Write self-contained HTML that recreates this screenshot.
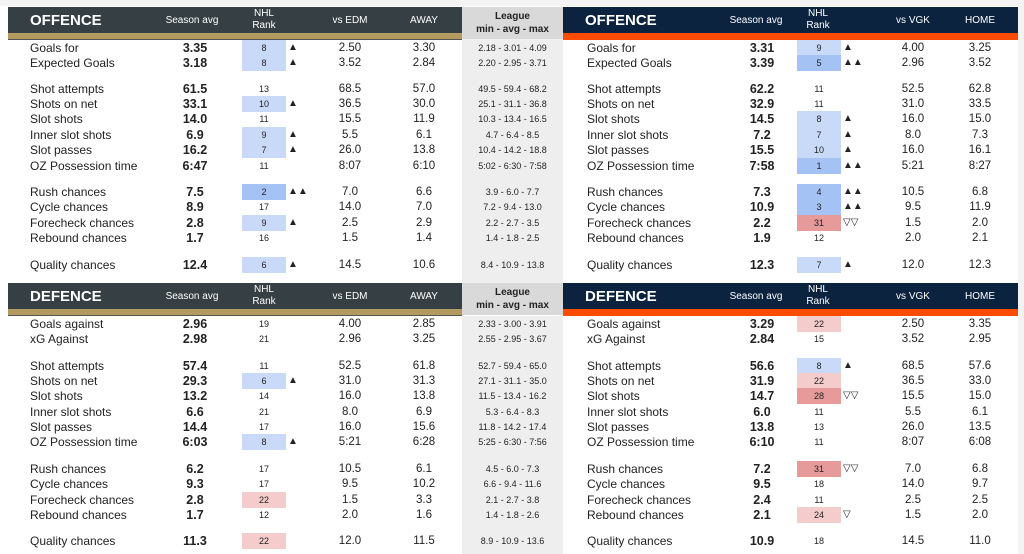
<!DOCTYPE html>
<html><head><meta charset="utf-8"><style>
*{margin:0;padding:0;box-sizing:border-box}
body{width:1024px;height:554px;background:#fff;position:relative;overflow:hidden;font-family:"Liberation Sans",Arial,sans-serif;color:#222}
.abs{position:absolute}
.hd{position:absolute;height:26px;color:#fff}
.hd .t{position:absolute;left:22px;top:5px;font-size:15px;font-weight:bold}
.hd .c{position:absolute;font-size:10px;text-align:center;width:80px}
.row{position:absolute;left:0;width:1024px;height:16px;line-height:16px}
.row span{position:absolute;top:0;white-space:nowrap}
.l{left:30px;font-size:12px}
.s{left:165px;width:60px;text-align:center;font-size:12.5px;font-weight:bold}
.r{left:242px;width:44px;height:16px;text-align:center;font-size:9px}
.a{left:288px;font-size:10px}
.v1{left:320px;width:60px;text-align:center;font-size:11.5px}
.v2{left:394px;width:60px;text-align:center;font-size:11.5px}
.lg{left:462px;width:101px;text-align:center;font-size:9px}
.R .l{left:587px}
.R .s{left:732px}
.R .r{left:797px}
.R .a{left:843px}
.R .v1{left:883px}
.R .v2{left:950px}
.lb{background:#c9daf8}.db{background:#a4c2f4}.lr{background:#f4cccc}.dr{background:#e69a9a}
</style></head><body>
<div class="abs" style="left:0;top:0;width:1024px;height:6px;background:#f3f3f3"></div>
<div class="abs" style="left:462px;top:39px;width:101px;height:244px;background:#eeeeee"></div>
<div class="abs" style="left:462px;top:316px;width:101px;height:238px;background:#eeeeee"></div>
<div class="abs" style="left:1018px;top:6px;width:6px;height:548px;background:#f3f3f3"></div>

<!-- Left offence header -->
<div class="hd" style="left:8px;top:7px;width:454px;background:#363f43">
<div class="t">OFFENCE</div>
<div class="c" style="left:144px;top:8px">Season avg</div>
<div class="c" style="left:216px;top:1px;line-height:12px">NHL<br>Rank</div>
<div class="c" style="left:302px;top:8px">vs EDM</div>
<div class="c" style="left:376px;top:8px">AWAY</div>
</div>
<div class="abs" style="left:8px;top:33px;width:454px;height:6px;background:#b39b5f"></div>
<div class="abs" style="left:8px;top:39px;width:454px;height:1px;background:#555"></div>
<div class="abs" style="left:462px;top:7px;width:101px;height:32px;background:#d9d9d9;text-align:center;font-size:10px;font-weight:bold;line-height:13px;padding-top:3px">League<br>min - avg - max</div>

<!-- Right offence header -->
<div class="hd" style="left:563px;top:7px;width:455px;background:#0c2340">
<div class="t">OFFENCE</div>
<div class="c" style="left:153px;top:8px">Season avg</div>
<div class="c" style="left:215px;top:1px;line-height:12px">NHL<br>Rank</div>
<div class="c" style="left:310px;top:8px">vs VGK</div>
<div class="c" style="left:377px;top:8px">HOME</div>
</div>
<div class="abs" style="left:563px;top:33px;width:455px;height:7px;background:#fc4c02"></div>

<!-- Left defence header -->
<div class="hd" style="left:8px;top:283px;width:454px;background:#363f43">
<div class="t">DEFENCE</div>
<div class="c" style="left:144px;top:8px">Season avg</div>
<div class="c" style="left:216px;top:1px;line-height:12px">NHL<br>Rank</div>
<div class="c" style="left:302px;top:8px">vs EDM</div>
<div class="c" style="left:376px;top:8px">AWAY</div>
</div>
<div class="abs" style="left:8px;top:309px;width:454px;height:6px;background:#b39b5f"></div>
<div class="abs" style="left:8px;top:315px;width:454px;height:1px;background:#555"></div>
<div class="abs" style="left:462px;top:283px;width:101px;height:32px;background:#d9d9d9;text-align:center;font-size:10px;font-weight:bold;line-height:13px;padding-top:3px">League<br>min - avg - max</div>

<!-- Right defence header -->
<div class="hd" style="left:563px;top:283px;width:455px;background:#0c2340">
<div class="t">DEFENCE</div>
<div class="c" style="left:153px;top:8px">Season avg</div>
<div class="c" style="left:215px;top:1px;line-height:12px">NHL<br>Rank</div>
<div class="c" style="left:310px;top:8px">vs VGK</div>
<div class="c" style="left:377px;top:8px">HOME</div>
</div>
<div class="abs" style="left:563px;top:309px;width:455px;height:7px;background:#fc4c02"></div>

<!-- Left offence rows -->
<div class="row" style="top:40px"><span class="l">Goals for</span><span class="s">3.35</span><span class="r lb">8</span><span class="a">▲</span><span class="v1">2.50</span><span class="v2">3.30</span><span class="lg">2.18 - 3.01 - 4.09</span></div>
<div class="row" style="top:55px"><span class="l">Expected Goals</span><span class="s">3.18</span><span class="r lb">8</span><span class="a">▲</span><span class="v1">3.52</span><span class="v2">2.84</span><span class="lg">2.20 - 2.95 - 3.71</span></div>
<div class="row" style="top:81px"><span class="l">Shot attempts</span><span class="s">61.5</span><span class="r">13</span><span class="v1">68.5</span><span class="v2">57.0</span><span class="lg">49.5 - 59.4 - 68.2</span></div>
<div class="row" style="top:96px"><span class="l">Shots on net</span><span class="s">33.1</span><span class="r lb">10</span><span class="a">▲</span><span class="v1">36.5</span><span class="v2">30.0</span><span class="lg">25.1 - 31.1 - 36.8</span></div>
<div class="row" style="top:111px"><span class="l">Slot shots</span><span class="s">14.0</span><span class="r">11</span><span class="v1">15.5</span><span class="v2">11.9</span><span class="lg">10.3 - 13.4 - 16.5</span></div>
<div class="row" style="top:127px"><span class="l">Inner slot shots</span><span class="s">6.9</span><span class="r lb">9</span><span class="a">▲</span><span class="v1">5.5</span><span class="v2">6.1</span><span class="lg">4.7 - 6.4 - 8.5</span></div>
<div class="row" style="top:142px"><span class="l">Slot passes</span><span class="s">16.2</span><span class="r lb">7</span><span class="a">▲</span><span class="v1">26.0</span><span class="v2">13.8</span><span class="lg">10.4 - 14.2 - 18.8</span></div>
<div class="row" style="top:158px"><span class="l">OZ Possession time</span><span class="s">6:47</span><span class="r">11</span><span class="v1">8:07</span><span class="v2">6:10</span><span class="lg">5:02 - 6:30 - 7:58</span></div>
<div class="row" style="top:184px"><span class="l">Rush chances</span><span class="s">7.5</span><span class="r db">2</span><span class="a">▲▲</span><span class="v1">7.0</span><span class="v2">6.6</span><span class="lg">3.9 - 6.0 - 7.7</span></div>
<div class="row" style="top:199px"><span class="l">Cycle chances</span><span class="s">8.9</span><span class="r">17</span><span class="v1">14.0</span><span class="v2">7.0</span><span class="lg">7.2 - 9.4 - 13.0</span></div>
<div class="row" style="top:215px"><span class="l">Forecheck chances</span><span class="s">2.8</span><span class="r lb">9</span><span class="a">▲</span><span class="v1">2.5</span><span class="v2">2.9</span><span class="lg">2.2 - 2.7 - 3.5</span></div>
<div class="row" style="top:230px"><span class="l">Rebound chances</span><span class="s">1.7</span><span class="r">16</span><span class="v1">1.5</span><span class="v2">1.4</span><span class="lg">1.4 - 1.8 - 2.5</span></div>
<div class="row" style="top:257px"><span class="l">Quality chances</span><span class="s">12.4</span><span class="r lb">6</span><span class="a">▲</span><span class="v1">14.5</span><span class="v2">10.6</span><span class="lg">8.4 - 10.9 - 13.8</span></div>

<!-- Right offence rows -->
<div class="R">
<div class="row" style="top:40px"><span class="l">Goals for</span><span class="s">3.31</span><span class="r lb">9</span><span class="a">▲</span><span class="v1">4.00</span><span class="v2">3.25</span></div>
<div class="row" style="top:55px"><span class="l">Expected Goals</span><span class="s">3.39</span><span class="r db">5</span><span class="a">▲▲</span><span class="v1">2.96</span><span class="v2">3.52</span></div>
<div class="row" style="top:81px"><span class="l">Shot attempts</span><span class="s">62.2</span><span class="r">11</span><span class="v1">52.5</span><span class="v2">62.8</span></div>
<div class="row" style="top:96px"><span class="l">Shots on net</span><span class="s">32.9</span><span class="r">11</span><span class="v1">31.0</span><span class="v2">33.5</span></div>
<div class="row" style="top:111px"><span class="l">Slot shots</span><span class="s">14.5</span><span class="r lb">8</span><span class="a">▲</span><span class="v1">16.0</span><span class="v2">15.0</span></div>
<div class="row" style="top:127px"><span class="l">Inner slot shots</span><span class="s">7.2</span><span class="r lb">7</span><span class="a">▲</span><span class="v1">8.0</span><span class="v2">7.3</span></div>
<div class="row" style="top:142px"><span class="l">Slot passes</span><span class="s">15.5</span><span class="r lb">10</span><span class="a">▲</span><span class="v1">16.0</span><span class="v2">16.1</span></div>
<div class="row" style="top:158px"><span class="l">OZ Possession time</span><span class="s">7:58</span><span class="r db">1</span><span class="a">▲▲</span><span class="v1">5:21</span><span class="v2">8:27</span></div>
<div class="row" style="top:184px"><span class="l">Rush chances</span><span class="s">7.3</span><span class="r db">4</span><span class="a">▲▲</span><span class="v1">10.5</span><span class="v2">6.8</span></div>
<div class="row" style="top:199px"><span class="l">Cycle chances</span><span class="s">10.9</span><span class="r db">3</span><span class="a">▲▲</span><span class="v1">9.5</span><span class="v2">11.9</span></div>
<div class="row" style="top:215px"><span class="l">Forecheck chances</span><span class="s">2.2</span><span class="r dr">31</span><span class="a">▽▽</span><span class="v1">1.5</span><span class="v2">2.0</span></div>
<div class="row" style="top:230px"><span class="l">Rebound chances</span><span class="s">1.9</span><span class="r">12</span><span class="v1">2.0</span><span class="v2">2.1</span></div>
<div class="row" style="top:257px"><span class="l">Quality chances</span><span class="s">12.3</span><span class="r lb">7</span><span class="a">▲</span><span class="v1">12.0</span><span class="v2">12.3</span></div>
</div>

<!-- Left defence rows -->
<div class="row" style="top:316px"><span class="l">Goals against</span><span class="s">2.96</span><span class="r">19</span><span class="v1">4.00</span><span class="v2">2.85</span><span class="lg">2.33 - 3.00 - 3.91</span></div>
<div class="row" style="top:331px"><span class="l">xG Against</span><span class="s">2.98</span><span class="r">21</span><span class="v1">2.96</span><span class="v2">3.25</span><span class="lg">2.55 - 2.95 - 3.67</span></div>
<div class="row" style="top:358px"><span class="l">Shot attempts</span><span class="s">57.4</span><span class="r">11</span><span class="v1">52.5</span><span class="v2">61.8</span><span class="lg">52.7 - 59.4 - 65.0</span></div>
<div class="row" style="top:373px"><span class="l">Shots on net</span><span class="s">29.3</span><span class="r lb">6</span><span class="a">▲</span><span class="v1">31.0</span><span class="v2">31.3</span><span class="lg">27.1 - 31.1 - 35.0</span></div>
<div class="row" style="top:388px"><span class="l">Slot shots</span><span class="s">13.2</span><span class="r">14</span><span class="v1">16.0</span><span class="v2">13.8</span><span class="lg">11.5 - 13.4 - 16.2</span></div>
<div class="row" style="top:404px"><span class="l">Inner slot shots</span><span class="s">6.6</span><span class="r">21</span><span class="v1">8.0</span><span class="v2">6.9</span><span class="lg">5.3 - 6.4 - 8.3</span></div>
<div class="row" style="top:419px"><span class="l">Slot passes</span><span class="s">14.4</span><span class="r">17</span><span class="v1">16.0</span><span class="v2">15.6</span><span class="lg">11.8 - 14.2 - 17.4</span></div>
<div class="row" style="top:434px"><span class="l">OZ Possession time</span><span class="s">6:03</span><span class="r lb">8</span><span class="a">▲</span><span class="v1">5:21</span><span class="v2">6:28</span><span class="lg">5:25 - 6:30 - 7:56</span></div>
<div class="row" style="top:461px"><span class="l">Rush chances</span><span class="s">6.2</span><span class="r">17</span><span class="v1">10.5</span><span class="v2">6.1</span><span class="lg">4.5 - 6.0 - 7.3</span></div>
<div class="row" style="top:476px"><span class="l">Cycle chances</span><span class="s">9.3</span><span class="r">17</span><span class="v1">9.5</span><span class="v2">10.2</span><span class="lg">6.6 - 9.4 - 11.6</span></div>
<div class="row" style="top:492px"><span class="l">Forecheck chances</span><span class="s">2.8</span><span class="r lr">22</span><span class="v1">1.5</span><span class="v2">3.3</span><span class="lg">2.1 - 2.7 - 3.8</span></div>
<div class="row" style="top:507px"><span class="l">Rebound chances</span><span class="s">1.7</span><span class="r">12</span><span class="v1">2.0</span><span class="v2">1.6</span><span class="lg">1.4 - 1.8 - 2.6</span></div>
<div class="row" style="top:533px"><span class="l">Quality chances</span><span class="s">11.3</span><span class="r lr">22</span><span class="v1">12.0</span><span class="v2">11.5</span><span class="lg">8.9 - 10.9 - 13.6</span></div>

<!-- Right defence rows -->
<div class="R">
<div class="row" style="top:316px"><span class="l">Goals against</span><span class="s">3.29</span><span class="r lr">22</span><span class="v1">2.50</span><span class="v2">3.35</span></div>
<div class="row" style="top:331px"><span class="l">xG Against</span><span class="s">2.84</span><span class="r">15</span><span class="v1">3.52</span><span class="v2">2.95</span></div>
<div class="row" style="top:358px"><span class="l">Shot attempts</span><span class="s">56.6</span><span class="r lb">8</span><span class="a">▲</span><span class="v1">68.5</span><span class="v2">57.6</span></div>
<div class="row" style="top:373px"><span class="l">Shots on net</span><span class="s">31.9</span><span class="r lr">22</span><span class="v1">36.5</span><span class="v2">33.0</span></div>
<div class="row" style="top:388px"><span class="l">Slot shots</span><span class="s">14.7</span><span class="r dr">28</span><span class="a">▽▽</span><span class="v1">15.5</span><span class="v2">15.0</span></div>
<div class="row" style="top:404px"><span class="l">Inner slot shots</span><span class="s">6.0</span><span class="r">11</span><span class="v1">5.5</span><span class="v2">6.1</span></div>
<div class="row" style="top:419px"><span class="l">Slot passes</span><span class="s">13.8</span><span class="r">13</span><span class="v1">26.0</span><span class="v2">13.5</span></div>
<div class="row" style="top:434px"><span class="l">OZ Possession time</span><span class="s">6:10</span><span class="r">11</span><span class="v1">8:07</span><span class="v2">6:08</span></div>
<div class="row" style="top:461px"><span class="l">Rush chances</span><span class="s">7.2</span><span class="r dr">31</span><span class="a">▽▽</span><span class="v1">7.0</span><span class="v2">6.8</span></div>
<div class="row" style="top:476px"><span class="l">Cycle chances</span><span class="s">9.5</span><span class="r">18</span><span class="v1">14.0</span><span class="v2">9.7</span></div>
<div class="row" style="top:492px"><span class="l">Forecheck chances</span><span class="s">2.4</span><span class="r">11</span><span class="v1">2.5</span><span class="v2">2.5</span></div>
<div class="row" style="top:507px"><span class="l">Rebound chances</span><span class="s">2.1</span><span class="r lr">24</span><span class="a">▽</span><span class="v1">1.5</span><span class="v2">2.0</span></div>
<div class="row" style="top:533px"><span class="l">Quality chances</span><span class="s">10.9</span><span class="r">18</span><span class="v1">14.5</span><span class="v2">11.0</span></div>
</div>
</body></html>
